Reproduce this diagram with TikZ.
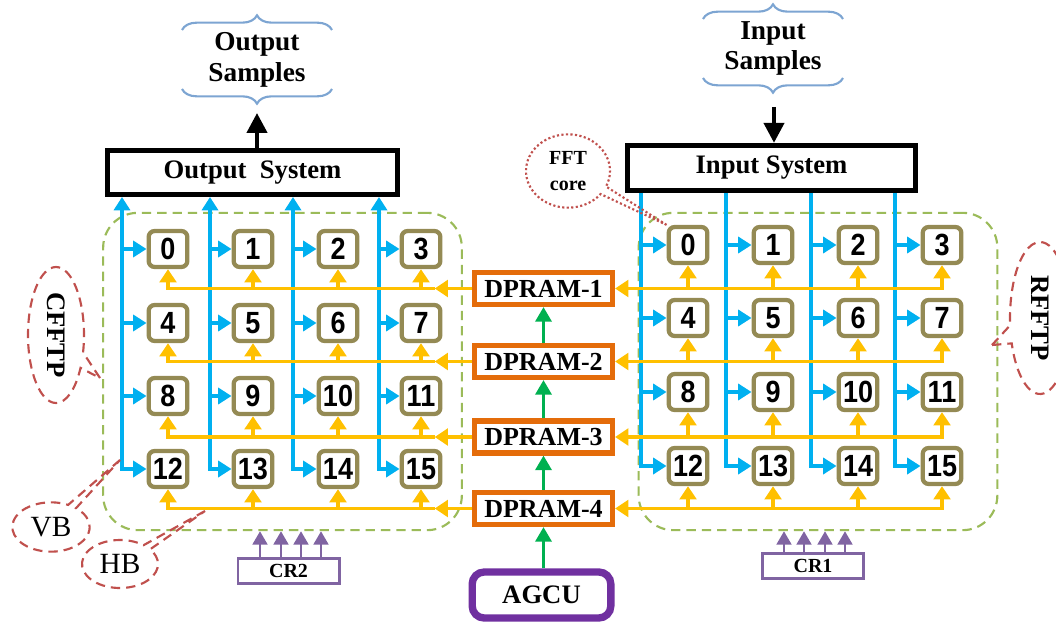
\documentclass[tikz,border=0pt]{standalone}
\usepackage{fontspec}
\usepackage{graphicx}
\setmainfont{Liberation Serif}
\newfontfamily\pefont[FakeStretch=0.88]{Liberation Sans}
\usetikzlibrary{arrows.meta,shapes.callouts,decorations.pathreplacing}

\definecolor{busblue}{RGB}{0,176,240}
\definecolor{busyellow}{RGB}{255,192,0}
\definecolor{peframe}{RGB}{148,138,84}
\definecolor{tpgreen}{RGB}{155,187,89}
\definecolor{noteRed}{RGB}{192,80,77}
\definecolor{crpurple}{RGB}{128,100,162}
\definecolor{agpurple}{RGB}{112,48,160}
\definecolor{ramorange}{RGB}{228,108,10}
\definecolor{ctlgreen}{RGB}{0,176,80}
\definecolor{bracecol}{RGB}{125,165,210}

\begin{document}
\begin{tikzpicture}[x=0.75pt, y=-0.75pt,
  pe/.style={draw=peframe, line width=3.2pt, rounded corners=4.5pt, fill=white,
    minimum width=29pt, minimum height=27pt, inner sep=0pt,
    font=\pefont\bfseries\fontsize{23}{23}\selectfont},
  ram/.style={draw=ramorange, line width=3.8pt, fill=white,
    minimum width=103.5pt, minimum height=24pt, inner sep=0pt,
    font=\bfseries\fontsize{19.5}{20}\selectfont},
  sysbox/.style={draw=black, line width=3.75pt, fill=white, inner sep=0pt,
    font=\bfseries\fontsize{20}{20}\selectfont},
  crbox/.style={draw=crpurple, line width=2pt, fill=white,
    minimum width=76pt, minimum height=19pt, inner sep=0pt,
    font=\bfseries\fontsize{15}{15}\selectfont},
  tpframe/.style={draw=tpgreen, line width=1.6pt, dash pattern=on 7pt off 4.5pt,
    rounded corners=26pt, minimum width=269pt, minimum height=238pt},
  note/.style={ellipse callout, draw=noteRed, line width=1.6pt,
    dash pattern=on 7pt off 4.5pt, inner sep=0pt, callout pointer arc=14},
  busV/.style={draw=busblue, line width=2.5pt},
  busY/.style={draw=busyellow, line width=2.5pt},
  bhead/.tip={Triangle[width=12pt,length=10pt]},
  yhead/.tip={Triangle[width=12.5pt,length=10pt]},
  ctl/.style={draw=ctlgreen, line width=2.6pt, -{Triangle[width=12pt,length=11pt]}},
  bigarrow/.style={draw=black, line width=3.2pt, -{Triangle[width=15pt,length=15pt]}},
  crarrow/.style={draw=crpurple, line width=2pt, -{Triangle[width=11pt,length=10pt]}},
  bracestyle/.style={draw=bracecol, line width=1.6pt, decorate,
    decoration={brace, amplitude=11pt}},
  lbl/.style={align=center, inner sep=0pt}
]
\useasboundingbox (0,0) rectangle (1056,627);

% dashed frames round the two processor arrays
\node[tpframe] (FL) at (282.5,371.5) {};
\node[tpframe] (FR) at (818,371.5) {};

% input / output systems
\node[sysbox, minimum width=217.5pt, minimum height=33pt] (OS) at (252.5,172.5) {Output\ \ System};
\node[sysbox, minimum width=216pt, minimum height=34pt] (IS) at (771.5,168) {Input System};

% processing elements
\foreach \x [count=\cc from 0] in {168,253,338,421}
  \foreach \y [count=\rr from 0] in {249,323,396,469} {
    \pgfmathtruncatemacro{\n}{4*\rr+\cc}
    \node[pe] (L\n) at (\x,\y) {\n};
  }
\foreach \x [count=\cc from 0] in {688,773,858,942}
  \foreach \y [count=\rr from 0] in {245,318,392,466} {
    \pgfmathtruncatemacro{\n}{4*\rr+\cc}
    \node[pe] (R\n) at (\x,\y) {\n};
  }

% dual-port memories and address generator
\foreach \y [count=\k] in {288.5,361.5,437,508.5}
  \node[ram] (D\k) at (543.5,\y) {DPRAM-\k};
\node[draw=agpurple, line width=5.5pt, rounded corners=9pt, fill=white,
  minimum width=104pt, minimum height=34.5pt, inner sep=0pt,
  font=\bfseries\fontsize{20}{20}\selectfont] (AG) at (541.5,595) {\raisebox{-3pt}{AGCU}};

% control registers
\node[crbox] (C2) at (288.5,571) {CR2};
\node[crbox] (C1) at (813,566) {CR1};

% vertical buses, left array (to the output system)
\foreach \vx [count=\cc from 0] in {122,210,293,379} {
  \pgfmathtruncatemacro{\lastpe}{12+\cc}
  \coordinate (vl\cc) at (\vx,300);
  \draw[busV, {bhead}-{bhead}]
    (L\lastpe.west) -- (vl\cc |- L\lastpe.west) -- (vl\cc |- OS.south);
  \foreach \rr in {0,1,2} {
    \pgfmathtruncatemacro{\m}{4*\rr+\cc}
    \draw[busV, -{bhead}] (vl\cc |- L\m.west) -- (L\m.west);
  }
}

% vertical buses, right array (from the input system)
\foreach \vx [count=\cc from 0] in {641,726,811,895} {
  \pgfmathtruncatemacro{\lastpe}{12+\cc}
  \coordinate (vr\cc) at (\vx,300);
  \draw[busV, -{bhead}]
    (vr\cc |- IS.south) -- (vr\cc |- R\lastpe.west) -- (R\lastpe.west);
  \foreach \rr in {0,1,2} {
    \pgfmathtruncatemacro{\m}{4*\rr+\cc}
    \draw[busV, -{bhead}] (vr\cc |- R\m.west) -- (R\m.west);
  }
}

% horizontal buses between the memories and both arrays
\foreach \k in {1,2,3,4} {
  \pgfmathtruncatemacro{\first}{4*(\k-1)}
  \pgfmathtruncatemacro{\last}{4*(\k-1)+3}
  % left array
  \draw[busY, -{yhead}] (D\k.west) -- ([xshift=-28pt]D\k.west) coordinate (yt\k);
  \draw[busY, -{yhead}] (yt\k) -- (L\first.south |- yt\k) -- (L\first.south);
  \foreach \cc in {1,2,3} {
    \pgfmathtruncatemacro{\m}{\first+\cc}
    \draw[busY, -{yhead}] (L\m.south |- yt\k) -- (L\m.south);
  }
  % right array
  \draw[busY, {yhead}-{yhead}]
    (R\last.south) -- (R\last.south |- D\k.east) -- (D\k.east);
  \foreach \cc in {0,1,2} {
    \pgfmathtruncatemacro{\m}{\first+\cc}
    \draw[busY, -{yhead}] (R\m.south |- D\k.east) -- (R\m.south);
  }
}

% address chain
\foreach \a/\b in {2/1,3/2,4/3}
  \draw[ctl] (D\a.north) -- (D\b.south);
\draw[ctl] (D4.south |- AG.north) -- (D4.south);

% control register lines
\foreach \px in {260,281,301,321}
  \draw[crarrow] (C2.north -| \px,0) -- (FL.south -| \px,0);
\foreach \px in {784,804,825,845}
  \draw[crarrow] (C1.north -| \px,0) -- (FR.south -| \px,0);

% samples in and out
\node[lbl, font=\bfseries\fontsize{20.5}{23.5}\selectfont] (outsamp) at (257,60) {Output\\Samples};
\node[lbl, font=\bfseries\fontsize{20.5}{22.5}\selectfont] (insamp) at (773,48) {Input\\Samples};
\draw[bracestyle] (182,30) -- (332,30);
\draw[bracestyle] (332,89) -- (182,89);
\draw[bracestyle] (703,19) -- (843,19);
\draw[bracestyle] (843,78) -- (703,78);
\coordinate (osTop) at (257,113);
\draw[bigarrow] (OS.north -| osTop) -- (osTop);
\coordinate (isTop) at (774,107);
\draw[bigarrow] (isTop) -- (IS.north -| isTop);

% annotations
\coordinate (cfftpTip) at (100,378);
\coordinate (rfftpTip) at (992,345);
\coordinate (vbTip) at (120,460);
\coordinate (hbTip) at (205,511);
\node[note, dash pattern=on 1.6pt off 1.8pt, minimum width=63pt, minimum height=55pt,
  callout absolute pointer={(R0.north west)}, align=center,
  font=\bfseries\fontsize{15}{19}\selectfont] (fft) at (568,171) {FFT\\core};
\node[note, minimum width=42pt, minimum height=102pt, callout absolute pointer={(cfftpTip)},
  font=\bfseries\fontsize{20}{20}\selectfont] (cfftp) at (56,335) {\rotatebox{-90}{CFFTP}};
\node[note, minimum width=45pt, minimum height=114pt, callout absolute pointer={(rfftpTip)},
  font=\bfseries\fontsize{20}{20}\selectfont] (rfftp) at (1040,318) {\rotatebox{-90}{RFFTP}};
\node[note, minimum width=58pt, minimum height=37pt, callout absolute pointer={(vbTip)},
  font=\fontsize{22}{22}\selectfont] (vb) at (51,527) {VB};
\node[note, minimum width=57pt, minimum height=36pt, callout absolute pointer={(hbTip)},
  font=\fontsize{22}{22}\selectfont] (hb) at (120,564) {HB};
\end{tikzpicture}
\end{document}
